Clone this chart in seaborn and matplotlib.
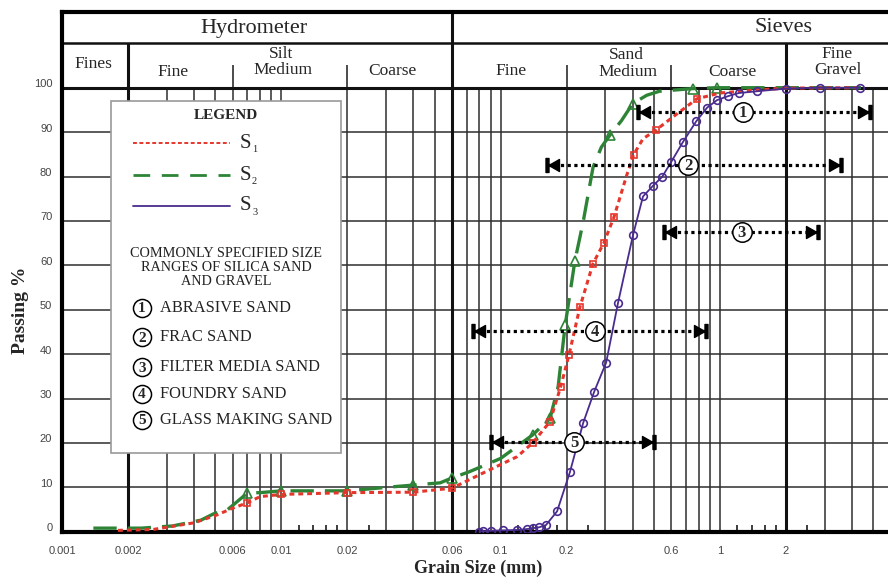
import numpy as np
import matplotlib
matplotlib.use("Agg")
import matplotlib.pyplot as plt
import seaborn as sns
import pandas as pd
from matplotlib.path import Path
from matplotlib.patches import Rectangle
from matplotlib.lines import Line2D
from matplotlib.transforms import ScaledTranslation

# ---------------- data ----------------
s1_size = [0.0018, 0.0026, 0.0040, 0.0051, 0.0060, 0.007, 0.008, 0.01, 0.02, 0.04, 0.06,
           0.083, 0.119, 0.14, 0.168, 0.188, 0.205, 0.230, 0.264, 0.296, 0.329, 0.376,
           0.404, 0.446, 0.509, 0.637, 0.786, 1.0, 1.5, 2.0, 4.4]
s1_pass = [0.3, 0.5, 2.0, 3.8, 5.3, 6.5, 7.9, 8.4, 8.8, 8.9, 9.8,
           13.2, 16.9, 20.0, 24.8, 32.7, 39.8, 50.6, 60.4, 65.1, 70.9, 80.3,
           84.9, 88.5, 90.4, 94.1, 97.5, 98.8, 99.5, 99.9, 100.0]
s1_marks = [5, 7, 8, 9, 10, 13, 14, 15, 16, 17, 18, 19, 20, 22, 24, 26]

s2_size = [0.00139, 0.0023, 0.0032, 0.0043, 0.0049, 0.0057, 0.007, 0.008, 0.01, 0.02,
           0.032, 0.04, 0.053, 0.06, 0.072, 0.10, 0.14, 0.168, 0.183, 0.197, 0.218,
           0.238, 0.264, 0.288, 0.315, 0.356, 0.40, 0.464, 0.53, 0.75, 0.97, 4.4]
s2_pass = [0.8, 0.8, 1.3, 2.6, 4.0, 5.0, 8.7, 8.8, 9.2, 9.2,
           10.1, 10.5, 11.0, 12.1, 13.5, 16.5, 21.8, 25.5, 32.7, 46.5, 60.9,
           69.8, 82.1, 86.6, 89.3, 92.6, 96.4, 98.3, 99.2, 99.8, 100.0, 100.0]
s2_marks = [6, 8, 9, 11, 13, 16, 17, 19, 20, 24, 26, 29, 30]

s3_size = [0.080, 0.083, 0.090, 0.1025, 0.119, 0.132, 0.141, 0.150, 0.161, 0.181, 0.207,
           0.238, 0.267, 0.303, 0.343, 0.402, 0.446, 0.495, 0.545, 0.60, 0.679, 0.779,
           0.874, 0.97, 1.09, 1.22, 1.48, 2.0, 2.86, 4.35]
s3_pass = [0.0, 0.1, 0.2, 0.3, 0.4, 0.6, 0.8, 1.0, 1.5, 4.6, 13.4,
           24.5, 31.5, 38.1, 51.5, 66.9, 75.5, 77.9, 79.9, 83.3, 87.8, 92.4,
           95.5, 97.2, 98.1, 98.8, 99.2, 99.8, 100.0, 100.0]

range_names = ["ABRASIVE SAND", "FRAC SAND", "FILTER MEDIA SAND", "FOUNDRY SAND",
               "GLASS MAKING SAND"]
range_num = ["1", "2", "3", "4", "5"]
range_lo = [0.423, 0.163, 0.556, 0.0748, 0.0904]
range_hi = [4.84, 3.57, 2.80, 0.864, 0.50]
range_y = [94.5, 82.6, 67.4, 45.2, 20.1]
range_label_x = [1.27, 0.716, 1.26, 0.269, 0.216]

xtick_vals = [0.001, 0.002, 0.006, 0.01, 0.02, 0.06, 0.1, 0.2, 0.6, 1, 2]
xtick_labels = ["0.001", "0.002", "0.006", "0.01", "0.02", "0.06", "0.1", "0.2", "0.6", "1", "2"]
xminor_vals = [0.012, 0.014, 0.016, 0.018, 0.025, 0.12, 0.14, 0.16, 0.18, 0.25,
               1.2, 1.4, 1.6, 1.8, 2.5]
grid_x = [0.003, 0.004, 0.005, 0.006, 0.007, 0.008, 0.009, 0.01,
          0.02, 0.03, 0.04, 0.05, 0.07, 0.08, 0.09, 0.1,
          0.2, 0.3, 0.4, 0.5, 0.6, 0.7, 0.8, 0.9, 1.0, 3.0, 4.0, 5.0]
yticks = list(range(0, 101, 10))

RED = "#e6362c"
GREEN = "#2e8436"
PURPLE = "#4a2c8e"
GRID = "#2e2e2e"

# ---------------- style ----------------
sns.set_theme(style="white")
plt.rcParams['font.family'] = ['Liberation Serif', 'DejaVu Serif']

W, H = 888, 578
fig = plt.figure(figsize=(W / 100, H / 100), dpi=100)
fig.patch.set_facecolor("white")


def fx(px):
    return px / W


def fy(py):
    return 1 - py / H


X0, X1 = 62, 888
Y_TOP, Y_BOT = 11.7, 531.7
PX_PER_DEC = 219.3
PX_PER_UNIT = 4.44
ax = fig.add_axes([fx(X0), fy(Y_BOT), (X1 - X0) / W, (Y_BOT - Y_TOP) / H])
ax.set_xscale('log')
xmax = 0.001 * 10 ** ((X1 - X0) / PX_PER_DEC)
ymax = (Y_BOT - Y_TOP) / PX_PER_UNIT
ax.set_xlim(0.001, xmax)
ax.set_ylim(0, ymax)
ax.set_facecolor("white")

# grid
ax.vlines(grid_x, 0, 100, colors=GRID, lw=1.1, zorder=1)
ax.vlines([0.002, 2.0], 0, 110.1, colors="#111111", lw=2.2, zorder=2)
ax.vlines([0.06], 0, ymax, colors="#111111", lw=2.2, zorder=2)
ax.vlines([0.006, 0.02, 0.2, 0.6], 100, 105.2, colors=GRID, lw=1.2, zorder=2)
ax.hlines(yticks[1:-1], 0.001, xmax, colors=GRID, lw=1.1, zorder=1)
ax.hlines([100], 0.001, xmax, colors="#111111", lw=2.2, zorder=2)
ax.hlines([110.1], 0.001, xmax, colors="#111111", lw=1.8, zorder=2)

# curves
df1 = pd.DataFrame({"size": s1_size, "passing": s1_pass})
df2 = pd.DataFrame({"size": s2_size, "passing": s2_pass})
df3 = pd.DataFrame({"size": s3_size, "passing": s3_pass})
sns.lineplot(data=df2, x="size", y="passing", ax=ax, estimator=None, sort=False,
             legend=False, color=GREEN, lw=2.4, linestyle=(0, (7, 3.3)),
             marker="^", markevery=s2_marks, ms=6.5, mfc="none", mec=GREEN, mew=1.2,
             zorder=4)
sns.lineplot(data=df1, x="size", y="passing", ax=ax, estimator=None, sort=False,
             legend=False, color=RED, lw=2.2, linestyle=(0, (1.6, 1.3)),
             marker="s", markevery=s1_marks, ms=4.8, mfc="none", mec=RED, mew=1.2,
             zorder=5)
sns.lineplot(data=df3, x="size", y="passing", ax=ax, estimator=None, sort=False,
             legend=False, color=PURPLE, lw=1.3, linestyle="-",
             marker="o", ms=5.5, mfc="none", mec=PURPLE, mew=1.2, zorder=6)

# range arrows
bw, bh, tl, th = 1.5, 7.0, 10.5, 6.0
lv = [(-bw, -bh), (bw, -bh), (bw, bh), (-bw, bh), (-bw, -bh),
      (bw, 0), (bw + tl, -th), (bw + tl, th), (bw, 0)]
codes = [Path.MOVETO, Path.LINETO, Path.LINETO, Path.LINETO, Path.CLOSEPOLY,
         Path.MOVETO, Path.LINETO, Path.LINETO, Path.CLOSEPOLY]
left_path = Path(lv, codes)
rv = [(-x, y) for (x, y) in lv]
right_path = Path(rv, codes)
ms_end = 2 * (bw + tl) * 0.72
num_shift = ScaledTranslation(0, -1 / 100, fig.dpi_scale_trans)
for lo, hi, yv, lx, num in zip(range_lo, range_hi, range_y, range_label_x, range_num):
    ax.plot([lo, hi], [yv, yv], color="black", lw=2.3, linestyle=(0, (1, 1.1)),
            dash_capstyle="butt", zorder=7)
    ax.plot([lo], [yv], marker=left_path, ms=ms_end, color="black", ls="none", zorder=8)
    ax.plot([hi], [yv], marker=right_path, ms=ms_end, color="black", ls="none", zorder=8)
    ax.plot([lx], [yv], marker="o", ms=14, mfc="white", mec="black", mew=1.1,
            ls="none", zorder=9)
    ax.text(lx, yv, num, ha="center", va="center", fontsize=12, fontweight="bold",
            zorder=10, transform=ax.transData + num_shift)

# ticks
ax.set_xticks(xtick_vals)
ax.set_xticklabels(xtick_labels)
ax.set_xticks(xminor_vals, minor=True)
ax.set_xticklabels([], minor=True)
ax.set_yticks(yticks)
ax.set_yticklabels([str(v) for v in yticks])
ax.tick_params(axis="x", which="major", length=0, pad=10, labelsize=8, labelcolor="#444444")
ax.tick_params(axis="x", which="minor", direction="in", length=5, width=1.3,
               color=GRID, bottom=True)
ax.tick_params(axis="y", which="major", length=0, pad=7, labelsize=8, labelcolor="#444444")
for lab in ax.get_xticklabels() + ax.get_yticklabels():
    lab.set_fontfamily(["Liberation Sans", "DejaVu Sans"])
for lab in ax.get_yticklabels():
    lab.set_transform(lab.get_transform() + ScaledTranslation(0, 4.5 / 100, fig.dpi_scale_trans))

for side in ["left", "bottom", "top"]:
    ax.spines[side].set_color("black")
    ax.spines[side].set_linewidth(3)
ax.spines["right"].set_visible(False)

ax.set_xlabel("Grain Size (mm)", fontsize=13, fontweight="bold")
ax.set_ylabel("Passing %", fontsize=14, fontweight="bold")
ax.xaxis.set_label_coords((478 - X0) / (X1 - X0), -(560 - Y_BOT) / (Y_BOT - Y_TOP))
ax.yaxis.set_label_coords((29 - X0) / (X1 - X0), (Y_BOT - 310) / (Y_BOT - Y_TOP))

# header texts
fig.text(fx(254), fy(28), "Hydrometer", ha="center", va="center", fontsize=16)
fig.text(fx(783), fy(27), "Sieves", ha="center", va="center", fontsize=16)
hdr = [("Fines", 93, 64), ("Fine", 173, 72), ("Silt", 281, 54), ("Medium", 283, 70),
       ("Coarse", 392, 71), ("Fine", 511, 71), ("Sand", 626, 55), ("Medium", 628, 72),
       ("Coarse", 732, 72), ("Fine", 837, 54), ("Gravel", 838, 70)]
for t, px, py in hdr:
    fig.text(fx(px), fy(py), t, ha="center", va="center", fontsize=12.5)

# legend box
fig.add_artist(Rectangle((fx(111), fy(453)), fx(341) - fx(111), fy(101) - fy(453),
                         transform=fig.transFigure, facecolor="white",
                         edgecolor="#9a9a9a", lw=1.2, zorder=20))
fig.text(fx(226), fy(115), "LEGEND", ha="center", va="center", fontsize=11,
         fontweight="bold", zorder=21)
leg_lines = [(143, RED, 1.4, (0, (2.0, 1.3))), (175, GREEN, 2.0, (0, (6, 4.2))),
             (206, PURPLE, 1.3, "-")]
for i, (py, col, lw, ls) in enumerate(leg_lines):
    fig.add_artist(Line2D([fx(133), fx(230)], [fy(py), fy(py)], transform=fig.transFigure,
                          color=col, lw=lw, linestyle=ls, zorder=21))
    fig.text(fx(240), fy(py), "S", ha="left", va="center", fontsize=15, zorder=21)
    fig.text(fx(252), fy(py + 6), str(i + 1), ha="left", va="center", fontsize=7.5,
             zorder=21)
fig.text(fx(226), fy(267), "COMMONLY SPECIFIED SIZE\nRANGES OF SILICA SAND\nAND GRAVEL",
         ha="center", va="center", fontsize=10.3, linespacing=1.1, color="#222222",
         zorder=21)
leg_item_y = [308, 337, 367, 394, 420]
for py, num, name in zip(leg_item_y, range_num, range_names):
    fig.add_artist(Line2D([fx(142)], [fy(py)], transform=fig.transFigure, marker="o",
                          ms=13, mfc="white", mec="black", mew=1.1, ls="none", zorder=21))
    fig.text(fx(142), fy(py + 1), num, ha="center", va="center", fontsize=11,
             fontweight="bold", zorder=22)
    fig.text(fx(160), fy(py), name, ha="left", va="center", fontsize=11.8,
             color="#222222", zorder=22)

fig.savefig("out.png", dpi=100, facecolor="white")
